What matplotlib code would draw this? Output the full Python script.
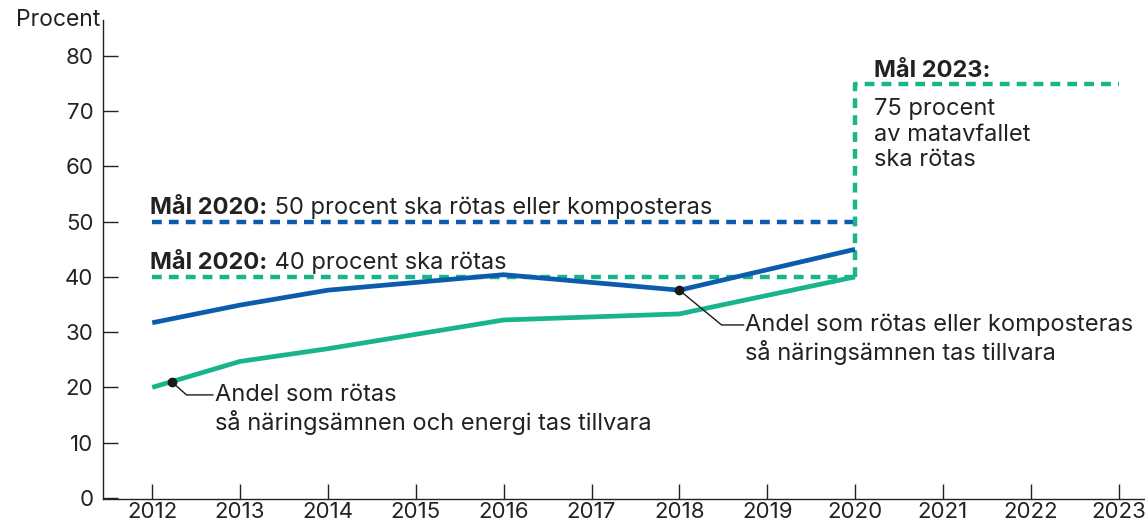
import numpy as np
import matplotlib
matplotlib.use("Agg")
import matplotlib.pyplot as plt
from matplotlib.transforms import ScaledTranslation

plt.rcParams['font.family'] = ['Inter', 'DejaVu Sans']

# data
years = [2012, 2013, 2014, 2016, 2018, 2020]
rotas_kompost = [31.7, 34.9, 37.6, 40.4, 37.6, 45.0]
rotas = [20.0, 24.7, 27.0, 32.2, 33.3, 40.0]

mal_2020_years = [2012, 2020]
mal_2020_kompost = 50
mal_2020_rotas = 40
mal_2023_years = [2020, 2020, 2023]
mal_2023_values = [40, 75, 75]

xticks = list(range(2012, 2024))
yticks = list(range(0, 81, 10))

BLUE = '#0b5cad'
GREEN = '#18b48b'
TXT = '#222222'
FS = 16     # tick labels
FA = 17     # annotations

fig = plt.figure(figsize=(11.45, 5.28), dpi=100)
ax = fig.add_axes([0.09, 0.054, 0.91, 0.908])

dash = dict(linewidth=3.2, linestyle=(0, (2.2, 1.6)), dash_capstyle='butt')
ax.plot(mal_2020_years, [mal_2020_kompost] * 2, color=BLUE, **dash)
ax.plot(mal_2020_years, [mal_2020_rotas] * 2, color=GREEN, **dash)
ax.plot(mal_2023_years, mal_2023_values, color=GREEN, **dash)

ax.plot(years, rotas_kompost, color=BLUE, linewidth=3.4, solid_capstyle='butt', zorder=3)
ax.plot(years, rotas, color=GREEN, linewidth=3.4, solid_capstyle='butt', zorder=3)

ax.set_xlim(2011.44, 2023.3)
ax.set_ylim(-0.3, 86.5)
ax.set_xticks(xticks)
ax.set_yticks(yticks)
ax.tick_params(direction='in', length=11, width=1, colors=TXT, labelsize=FS)
ax.tick_params(axis='x', pad=2)
ax.tick_params(axis='y', pad=7)
for s in ['top', 'right']:
    ax.spines[s].set_visible(False)
for s in ['left', 'bottom']:
    ax.spines[s].set_color(TXT)
    ax.spines[s].set_linewidth(1)

ax.text(-0.003, 1.0, 'Procent', transform=ax.transAxes, ha='right', va='center',
        fontsize=FS + 0.5, color=TXT)


def goal(x, y, bold, rest):
    t = ax.text(x, y, bold, fontsize=FA, fontweight='bold', color=TXT, va='bottom', ha='left')
    if rest:
        ax.annotate(rest, xy=(1, 0), xycoords=t, va='bottom', ha='left',
                    fontsize=FA, color=TXT)


goal(2011.98, 50.5, 'Mål 2020:', ' 50 procent ska rötas eller komposteras')
goal(2011.98, 40.5, 'Mål 2020:', ' 40 procent ska rötas')
goal(2020.22, 75.3, 'Mål 2023:', '')
ax.text(2020.22, 72.3, '75 procent\nav matavfallet\nska rötas', fontsize=FA, color=TXT,
        va='top', ha='left', linespacing=1.2)

# callouts
shift = ScaledTranslation(0, 8 / 72, fig.dpi_scale_trans)

gx = 2012.22
gy = np.interp(gx, years, rotas)
ax.plot([gx], [gy], 'o', color='#1a1a1a', markersize=6, zorder=5)
ax.plot([gx, gx + 0.17, gx + 0.47], [gy, gy - 2.4, gy - 2.4], color='#1a1a1a', linewidth=1, zorder=4)
ax.text(gx + 0.49, gy - 2.4, 'Andel som rötas\nså näringsämnen och energi tas tillvara',
        fontsize=FA, color=TXT, va='top', ha='left', linespacing=1.2,
        transform=ax.transData + shift)

bx = 2018.0
by = np.interp(bx, years, rotas_kompost)
ax.plot([bx], [by], 'o', color='#1a1a1a', markersize=6, zorder=5)
ax.plot([bx, bx + 0.48, bx + 0.73], [by, by - 6.3, by - 6.3], color='#1a1a1a', linewidth=1, zorder=4)
ax.text(bx + 0.75, by - 6.3, 'Andel som rötas eller komposteras\nså näringsämnen tas tillvara',
        fontsize=FA, color=TXT, va='top', ha='left', linespacing=1.2,
        transform=ax.transData + shift)

fig.savefig('out.png', dpi=100)
